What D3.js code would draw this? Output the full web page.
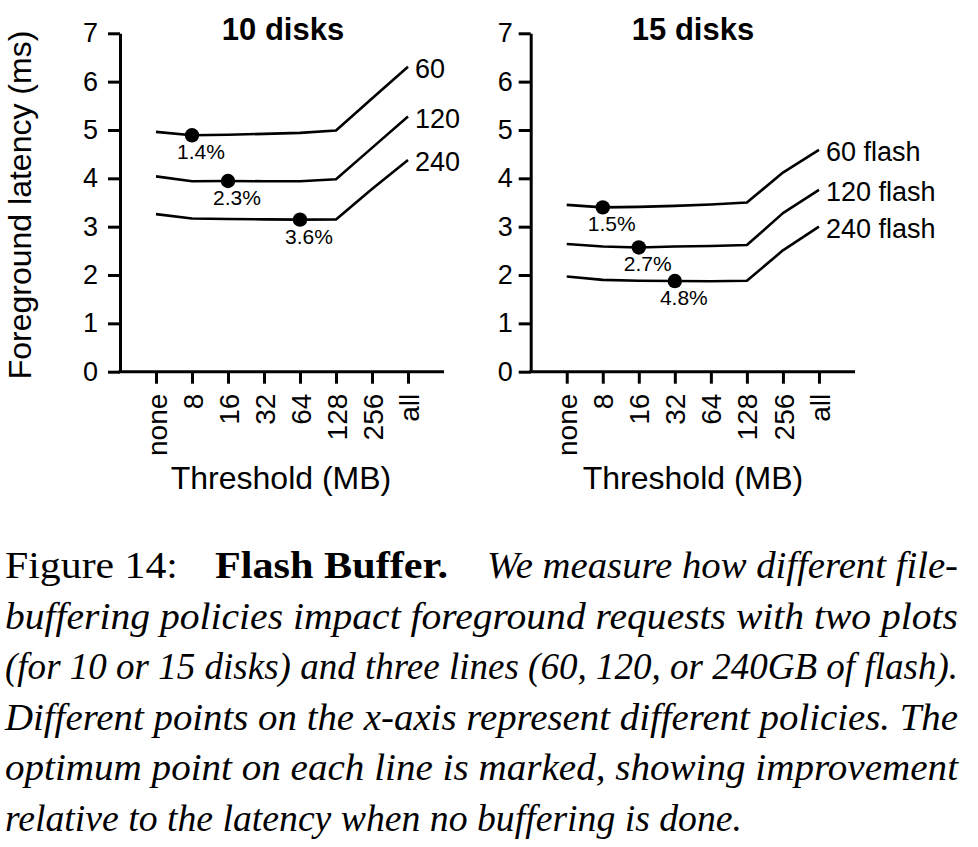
<!DOCTYPE html>
<html>
<head>
<meta charset="utf-8">
<script src="https://cdn.jsdelivr.net/npm/d3@7"></script>
<style>
  html, body { margin: 0; padding: 0; background: #fff; }
  svg { display: block; }
</style>
</head>
<body>
<svg id="chart" width="978" height="847"></svg>
<script>
// ---------------- data ----------------
const categories = ["none", "8", "16", "32", "64", "128", "256", "all"];
const yTicks = [0, 1, 2, 3, 4, 5, 6, 7];

const disks10_60  = [4.96, 4.89, 4.90, 4.92, 4.94, 4.99, 5.65, 6.31];
const disks10_120 = [4.04, 3.94, 3.945, 3.94, 3.94, 3.98, 4.63, 5.28];
const disks10_240 = [3.26, 3.17, 3.16, 3.15, 3.145, 3.15, 3.78, 4.38];

const disks15_60  = [3.45, 3.40, 3.41, 3.43, 3.46, 3.50, 4.12, 4.59];
const disks15_120 = [2.64, 2.59, 2.57, 2.59, 2.60, 2.62, 3.28, 3.76];
const disks15_240 = [1.97, 1.90, 1.88, 1.875, 1.87, 1.88, 2.51, 3.00];

const labels10 = ["60", "120", "240"];
const labels15 = ["60 flash", "120 flash", "240 flash"];
const bestIndex10 = [1, 2, 4];
const bestIndex15 = [1, 2, 3];
const bestText10 = ["1.4%", "2.3%", "3.6%"];
const bestText15 = ["1.5%", "2.7%", "4.8%"];

const titles = ["10 disks", "15 disks"];
const yLabel = "Foreground latency (ms)";
const xLabel = "Threshold (MB)";

// ---------------- drawing ----------------
const svg = d3.select("#chart");
const SANS = "'Liberation Sans', Arial, Helvetica, sans-serif";
const SERIF = "'Liberation Serif', 'Times New Roman', serif";

const yTop = 33.3, yBottom = 371.7;
const y = d3.scaleLinear().domain([0, 7]).range([yBottom, yTop]);

const panels = [
  { left: 120, right: 444, title: titles[0], series: [disks10_60, disks10_120, disks10_240],
    labels: labels10, best: bestIndex10, bestText: bestText10, titleX: 283, tickLabelGap: 10, xLabelX: 281 },
  { left: 530.7, right: 855, title: titles[1], series: [disks15_60, disks15_120, disks15_240],
    labels: labels15, best: bestIndex15, bestText: bestText15, titleX: 693, tickLabelGap: 6, xLabelX: 693 }
];

panels.forEach((p, pi) => {
  const g = svg.append("g");
  const x = d3.scalePoint().domain(categories).range([p.left, p.right]).padding(1);

  // y axis
  const ya = g.append("g").attr("transform", `translate(${p.left},0)`)
    .call(d3.axisLeft(y).tickValues(yTicks).tickFormat(d3.format("d"))
      .tickSize(12).tickSizeOuter(0).tickPadding(p.tickLabelGap));
  ya.selectAll("path.domain").attr("stroke", "#000").attr("stroke-width", 3);
  ya.selectAll(".tick line").attr("stroke", "#000").attr("stroke-width", 3);
  ya.selectAll(".tick text").attr("font-family", SANS).attr("font-size", 27).attr("fill", "#000");

  // x axis
  const xa = g.append("g").attr("transform", `translate(0,${yBottom})`)
    .call(d3.axisBottom(x).tickSize(12).tickSizeOuter(0));
  xa.selectAll("path.domain").attr("stroke", "#000").attr("stroke-width", 3)
    .attr("d", `M${p.left - 1.5},0H${p.right}`);
  xa.selectAll(".tick line").attr("stroke", "#000").attr("stroke-width", 3);
  xa.selectAll(".tick text")
    .attr("font-family", SANS).attr("font-size", 28).attr("fill", "#000")
    .attr("transform", "rotate(-90)")
    .attr("text-anchor", "end")
    .attr("x", -22).attr("y", 0).attr("dy", "0.36em");

  // title
  g.append("text").attr("x", p.titleX).attr("y", 40)
    .attr("text-anchor", "middle").attr("font-family", SANS)
    .attr("font-weight", "bold").attr("font-size", 31).text(p.title);

  // x label
  g.append("text").attr("x", p.xLabelX).attr("y", 489)
    .attr("text-anchor", "middle").attr("font-family", SANS)
    .attr("font-size", 32).text(xLabel);

  const line = d3.line().x((d, i) => x(categories[i])).y(d => y(d));

  p.series.forEach((vals, si) => {
    g.append("path").datum(vals).attr("d", line)
      .attr("fill", "none").attr("stroke", "#000").attr("stroke-width", 2.6)
      .attr("stroke-linejoin", "round");
    // end label
    const last = vals.length - 1;
    g.append("text")
      .attr("x", x(categories[last]) + 7).attr("y", y(vals[last]) + 2)
      .attr("dy", "0.35em").attr("font-family", SANS).attr("font-size", 27)
      .text(p.labels[si]);
    // best marker
    const bi = p.best[si];
    g.append("circle").attr("cx", x(categories[bi])).attr("cy", y(vals[bi]))
      .attr("r", 7.2).attr("fill", "#000");
    g.append("text")
      .attr("x", x(categories[bi]) + 9).attr("y", y(vals[bi]) + 24)
      .attr("text-anchor", "middle").attr("font-family", SANS).attr("font-size", 21)
      .text(p.bestText[si]);
  });
});

// y label
svg.append("text")
  .attr("transform", "translate(31,205) rotate(-90)")
  .attr("text-anchor", "middle").attr("font-family", SANS).attr("font-size", 32)
  .text(yLabel);

// ---------------- caption ----------------
const capSize = 33.5;
const capStretchY = 1.13;
const capLines = [
  { y: 578, parts: [
      { t: "Figure 14:", x: 5, w: 173, style: "normal", weight: "normal" },
      { t: "Flash Buffer.", x: 215, w: 233, style: "normal", weight: "bold" },
      { t: "We measure how different file-", x: 487, w: 471, style: "italic", weight: "normal" } ] },
  { y: 628.5, parts: [{ t: "buffering policies impact foreground requests with two plots", x: 5, w: 953, style: "italic", weight: "normal" }] },
  { y: 679, parts: [{ t: "(for 10 or 15 disks) and three lines (60, 120, or 240GB of flash).", x: 5, w: 953, style: "italic", weight: "normal" }] },
  { y: 729.5, parts: [{ t: "Different points on the x-axis represent different policies. The", x: 5, w: 953, style: "italic", weight: "normal" }] },
  { y: 780, parts: [{ t: "optimum point on each line is marked, showing improvement", x: 5, w: 953, style: "italic", weight: "normal" }] },
  { y: 830.5, parts: [{ t: "relative to the latency when no buffering is done.", x: 5, w: 737, style: "italic", weight: "normal" }] }
];
capLines.forEach(l => {
  l.parts.forEach(pt => {
    svg.append("text")
      .attr("transform", `translate(${pt.x},${l.y}) scale(1,${capStretchY})`)
      .attr("x", 0).attr("y", 0)
      .attr("font-family", SERIF).attr("font-size", capSize)
      .attr("font-style", pt.style).attr("font-weight", pt.weight)
      .attr("textLength", pt.w).attr("lengthAdjust", "spacingAndGlyphs")
      .text(pt.t);
  });
});
</script>
</body>
</html>
